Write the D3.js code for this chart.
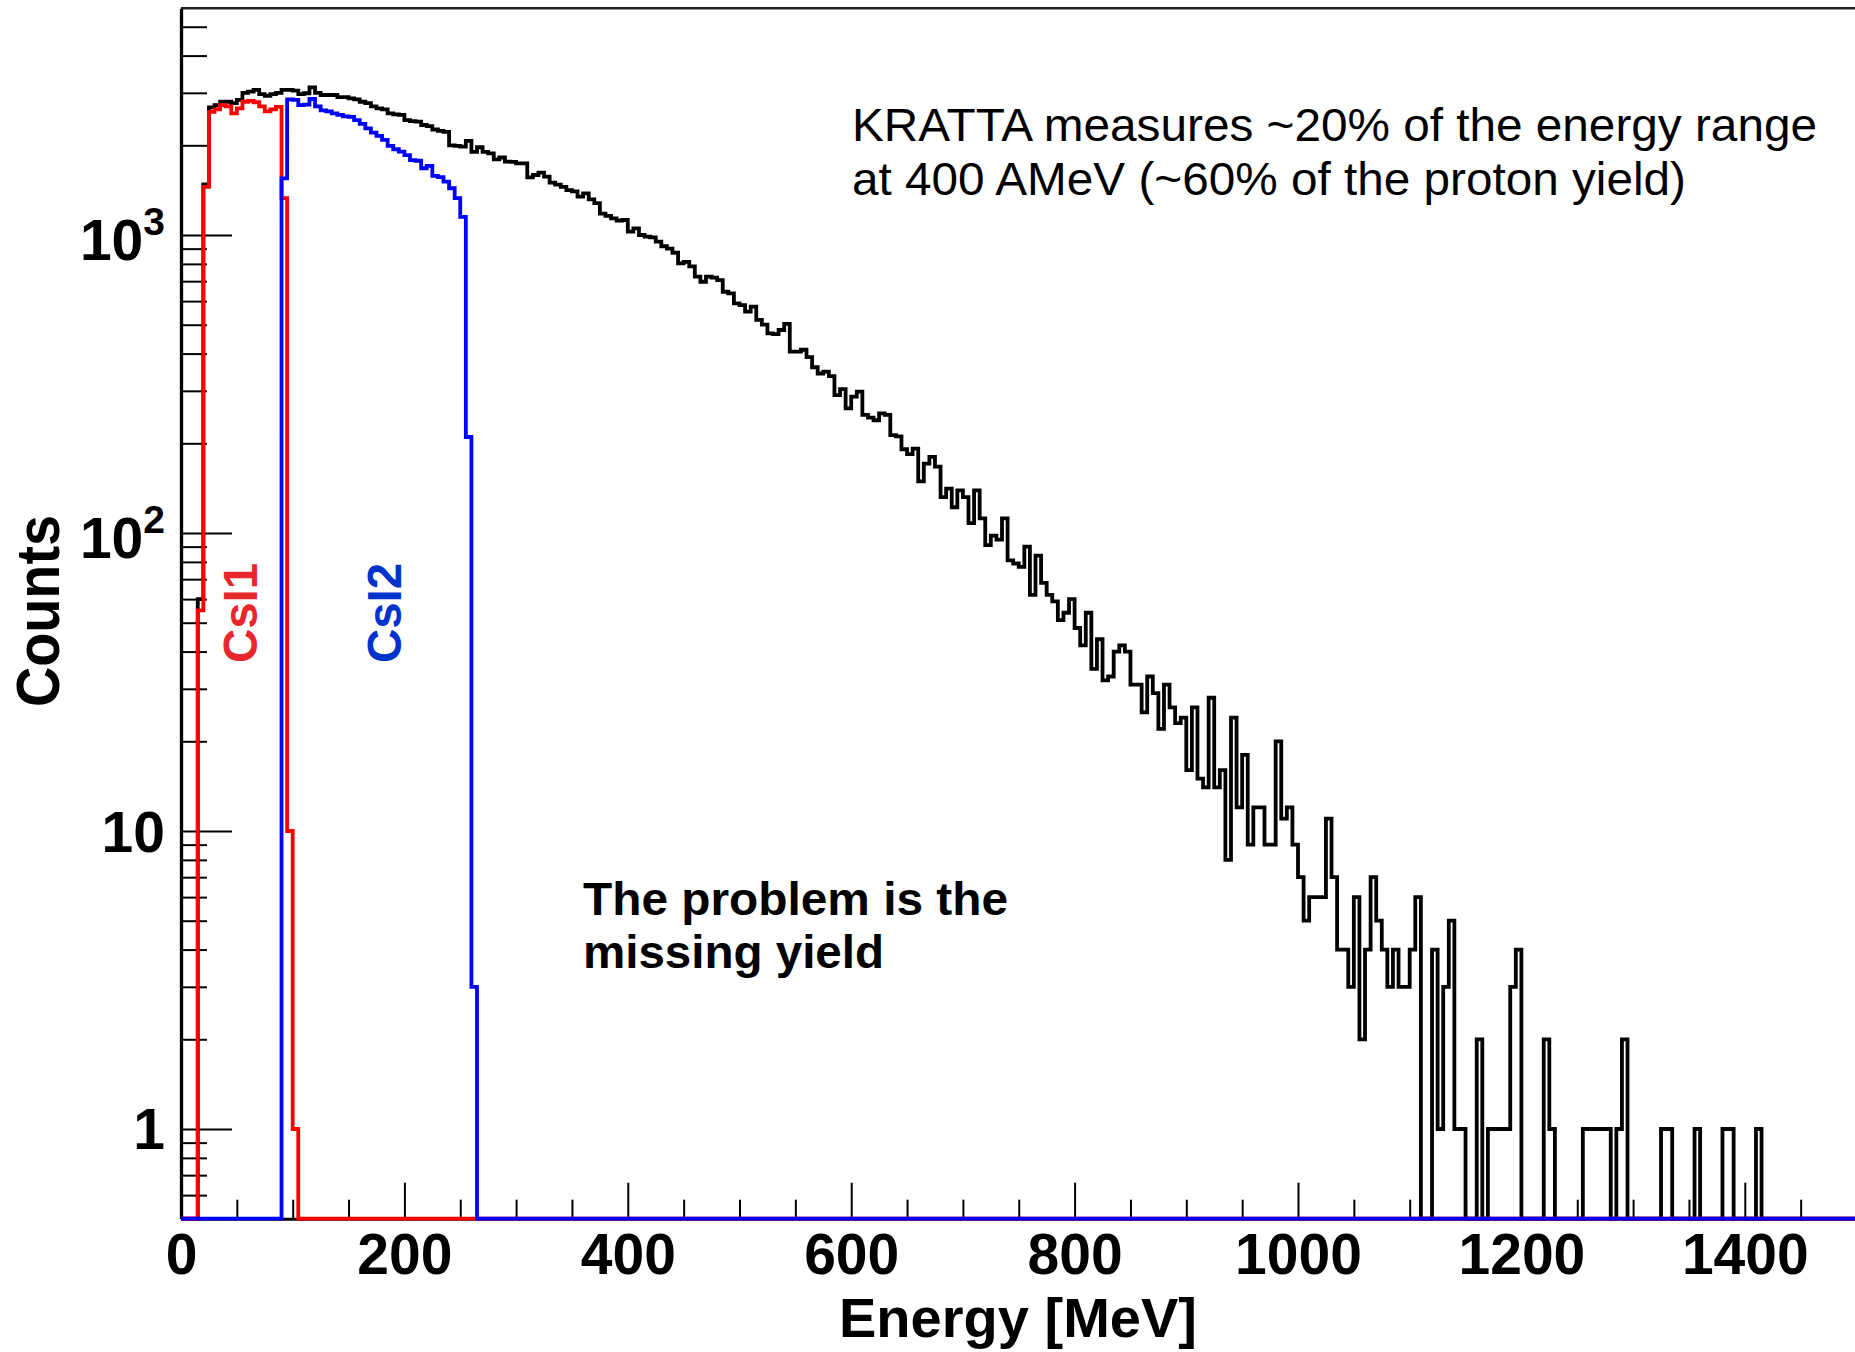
<!DOCTYPE html>
<html>
<head>
<meta charset="utf-8">
<script src="https://cdn.jsdelivr.net/npm/d3@7"></script>
<style>
  html, body { margin: 0; padding: 0; background: #ffffff; }
  svg { display: block; }
  text { font-family: "Liberation Sans", Arial, Helvetica, sans-serif; }
</style>
</head>
<body>
<svg id="chart" width="1855" height="1352"></svg>
<script>
// ---- histogram binning: 300 bins of 5 MeV, 0..1500 MeV ----
const binWidth = 5;
const nBins = 300;
const energyRange = [0, 1500];
const countRange = [0.5, 5765];

// all protons, counts per 5 MeV bin (bin 0 starts at 0 MeV)
const totalCounts = [
  0, 0, 0, 60, 1480, 2680, 2730, 2800, 2800, 2770,
  2840, 3000, 3030, 3070, 2970, 2930, 2970, 3000, 3070, 3070,
  3050, 2970, 2990, 3130, 3000, 2950, 2950, 2950, 2900, 2900,
  2875, 2850, 2800, 2770, 2700, 2660, 2640, 2560, 2540, 2530,
  2430, 2410, 2400, 2340, 2320, 2260, 2235, 2220, 2000, 1990,
  1980, 2070, 1900, 1970, 1900, 1880, 1795, 1820, 1762, 1760,
  1740, 1740, 1560, 1590, 1620, 1570, 1500, 1475, 1450, 1415,
  1400, 1345, 1380, 1317, 1280, 1180, 1160, 1137, 1117, 1123,
  1026, 1053, 1000, 987, 982, 950, 917, 900, 872, 803,
  813, 785, 725, 697, 725, 720, 706, 645, 637, 590,
  582, 553, 575, 519, 500, 468, 465, 480, 503, 406,
  406, 412, 389, 360, 343, 348, 336, 290, 304, 262,
  287, 298, 249, 244, 239, 252, 249, 213, 211, 191,
  184, 192, 149, 171, 180, 167, 132, 141, 122, 139,
  132, 108, 139, 112, 91, 98, 95, 112, 81, 79,
  77, 90, 62, 84, 68, 62, 59, 51, 54, 60,
  48, 42, 54, 35, 44, 32, 33, 40, 42, 40,
  31, 31, 25, 33, 29, 22, 31, 26, 23, 24,
  16, 26, 15, 14, 28, 14, 16, 8, 24, 12,
  18, 9, 12, 12, 9, 9, 20, 11, 12, 9,
  7, 5, 6, 6, 6, 11, 7, 4, 4, 3,
  6, 2, 4, 7, 5, 4, 3, 4, 3, 3,
  4, 6, 0, 0, 4, 1, 3, 5, 1, 1,
  0, 0, 2, 0, 1, 1, 1, 1, 3, 4,
  0, 0, 0, 0, 2, 1, 0, 0, 0, 0,
  0, 1, 1, 1, 1, 1, 0, 1, 2, 0,
  0, 0, 0, 0, 0, 1, 1, 0, 0, 0,
  0, 1, 0, 0, 0, 0, 1, 1, 0, 0,
  0, 0, 1, 0, 0, 0, 0, 0, 0, 0,
  0, 0, 0, 0, 0, 0, 0, 0, 0, 0
];

// protons stopped in the first CsI crystal (first non-empty bin: 3)
const csi1FirstBin = 3;
const csi1Counts = [55, 1450, 2590, 2640, 2730, 2700, 2560, 2660, 2800, 2820,
                    2790, 2700, 2600, 2640, 2690, 1330, 10, 1];

// protons stopped in the second CsI crystal (first non-empty bin: 18)
const csi2FirstBin = 18;
const csi2Counts = [1550, 2850, 2840, 2730, 2740, 2860, 2700, 2620, 2600, 2560,
                    2530, 2500, 2490, 2430, 2360, 2280, 2205, 2150, 2085, 1990,
                    1940, 1905, 1855, 1785, 1775, 1675, 1705, 1580, 1565, 1510,
                    1435, 1330, 1150, 210, 3];

// axis ticks and labels
const xMajorTicks = [0, 200, 400, 600, 800, 1000, 1200, 1400];
const xTickLabels = ["0", "200", "400", "600", "800", "1000", "1200", "1400"];
const xMinorStep = 50;
const yMajorTicks = [1, 10, 100, 1000];
const yTickBase = ["1", "10", "10", "10"];
const yTickExp = ["", "", "2", "3"];
const yMinorTicks = [0.6, 0.7, 0.8, 0.9, 2, 3, 4, 5, 6, 7, 8, 9,
                     20, 30, 40, 50, 60, 70, 80, 90,
                     200, 300, 400, 500, 600, 700, 800, 900,
                     2000, 3000, 4000, 5000];

const annotationLines = ["KRATTA measures ~20% of the energy range",
                         "at 400 AMeV (~60% of the proton yield)"];
const problemLines = ["The problem is the", "missing yield"];

// ---- layout ----
const plot = { left: 181, right: 1856.5, top: 8.3, bottom: 1218.7 };
const histStroke = 3.8;
const svg = d3.select("#chart");

const x = d3.scaleLinear().domain(energyRange).range([plot.left, plot.right]);
const y = d3.scaleLog().domain(countRange).range([plot.bottom, plot.top]);

function expand(firstBin, values) {
  const full = new Array(nBins).fill(0);
  values.forEach((v, i) => { full[firstBin + i] = v; });
  return full;
}

// step outline, empty bins sit on the lower frame edge
const stepLine = d3.line()
  .x(d => x(d[0]))
  .y(d => y(Math.max(d[1], countRange[0])))
  .curve(d3.curveStepAfter);

function histPoints(counts) {
  const pts = counts.map((c, i) => [i * binWidth, c]);
  pts.push([counts.length * binWidth, counts[counts.length - 1]]);
  return pts;
}

function drawHist(counts, color) {
  svg.append("path")
    .attr("d", stepLine(histPoints(counts)))
    .attr("fill", "none")
    .attr("stroke", color)
    .attr("stroke-width", histStroke)
    .attr("stroke-linejoin", "miter");
}

// total spectrum underneath the axes
drawHist(totalCounts, "#000000");

// frame: top and right edges
svg.append("path")
  .attr("d", `M${plot.left},${plot.top}H${plot.right}V${plot.bottom}`)
  .attr("fill", "none").attr("stroke", "#222").attr("stroke-width", 2.5);

// x axis
const xAxis = svg.append("g")
  .attr("transform", `translate(0,${plot.bottom})`)
  .call(d3.axisBottom(x)
    .tickValues(xMajorTicks)
    .tickFormat((d, i) => xTickLabels[i])
    .tickSizeInner(-36).tickSizeOuter(0).tickPadding(14.5));
xAxis.select(".domain").attr("stroke", "#000").attr("stroke-width", 3);
xAxis.selectAll(".tick line").attr("stroke", "#000").attr("stroke-width", 2);
xAxis.selectAll(".tick text")
  .attr("font-family", "'Liberation Sans', Arial, sans-serif")
  .attr("font-weight", "bold").attr("font-size", 57).attr("fill", "#000");

const xMinor = d3.range(energyRange[0], energyRange[1] + 1, xMinorStep)
  .filter(v => !xMajorTicks.includes(v));
const xMinorAxis = svg.append("g")
  .attr("transform", `translate(0,${plot.bottom})`)
  .call(d3.axisBottom(x).tickValues(xMinor).tickFormat("")
    .tickSizeInner(-19).tickSizeOuter(0));
xMinorAxis.select(".domain").remove();
xMinorAxis.selectAll(".tick line").attr("stroke", "#000").attr("stroke-width", 2);

// y axis
const yAxis = svg.append("g")
  .attr("transform", `translate(${plot.left},0)`)
  .call(d3.axisLeft(y).tickValues(yMajorTicks).tickFormat("")
    .tickSizeInner(-51).tickSizeOuter(0));
yAxis.select(".domain").attr("stroke", "#000").attr("stroke-width", 3.3);
yAxis.selectAll(".tick line").attr("stroke", "#000").attr("stroke-width", 2);

const yMinorAxis = svg.append("g")
  .attr("transform", `translate(${plot.left},0)`)
  .call(d3.axisLeft(y).tickValues(yMinorTicks).tickFormat("")
    .tickSizeInner(-26).tickSizeOuter(0));
yMinorAxis.select(".domain").remove();
yMinorAxis.selectAll(".tick line").attr("stroke", "#000").attr("stroke-width", 2);

// y tick labels with powers of ten
yMajorTicks.forEach((v, i) => {
  const hasExp = yTickExp[i] !== "";
  const t = svg.append("text")
    .attr("x", 165)
    .attr("y", y(v) + (hasExp ? 25 : 20.5))
    .attr("text-anchor", "end")
    .attr("font-weight", "bold")
    .attr("font-size", 57)
    .attr("fill", "#000");
  t.append("tspan").text(yTickBase[i]);
  if (hasExp) {
    t.append("tspan").attr("font-size", 39).attr("dy", -25).text(yTickExp[i]);
  }
});

// detector components
drawHist(expand(csi1FirstBin, csi1Counts), "#ff0000");
drawHist(expand(csi2FirstBin, csi2Counts), "#0000ff");

// axis titles
svg.append("text")
  .attr("x", 839).attr("y", 1337)
  .attr("font-weight", "bold").attr("font-size", 56)
  .attr("textLength", 358).attr("lengthAdjust", "spacingAndGlyphs")
  .text("Energy [MeV]");

svg.append("text")
  .attr("transform", "translate(59.3,611) rotate(-90)")
  .attr("text-anchor", "middle")
  .attr("font-weight", "bold").attr("font-size", 61)
  .attr("textLength", 192).attr("lengthAdjust", "spacingAndGlyphs")
  .text("Counts");

// component labels
svg.append("text")
  .attr("transform", "translate(257,613) rotate(-90)")
  .attr("text-anchor", "middle")
  .attr("font-weight", "bold").attr("font-size", 48)
  .attr("textLength", 100).attr("lengthAdjust", "spacingAndGlyphs")
  .attr("fill", "#e8262d")
  .text("CsI1");

svg.append("text")
  .attr("transform", "translate(401,613) rotate(-90)")
  .attr("text-anchor", "middle")
  .attr("font-weight", "bold").attr("font-size", 48)
  .attr("textLength", 100).attr("lengthAdjust", "spacingAndGlyphs")
  .attr("fill", "#0033cc")
  .text("CsI2");

// annotations
const annotationWidths = [965, 834];
annotationLines.forEach((s, i) => {
  svg.append("text")
    .attr("x", 852).attr("y", 140.5 + i * 54)
    .attr("font-size", 45.6)
    .attr("textLength", annotationWidths[i]).attr("lengthAdjust", "spacingAndGlyphs")
    .attr("fill", "#000")
    .text(s);
});

const problemWidths = [425, 301];
problemLines.forEach((s, i) => {
  svg.append("text")
    .attr("x", 583).attr("y", 914.5 + i * 53.2)
    .attr("font-weight", "bold").attr("font-size", 46)
    .attr("textLength", problemWidths[i]).attr("lengthAdjust", "spacingAndGlyphs")
    .attr("fill", "#000")
    .text(s);
});
</script>
</body>
</html>
